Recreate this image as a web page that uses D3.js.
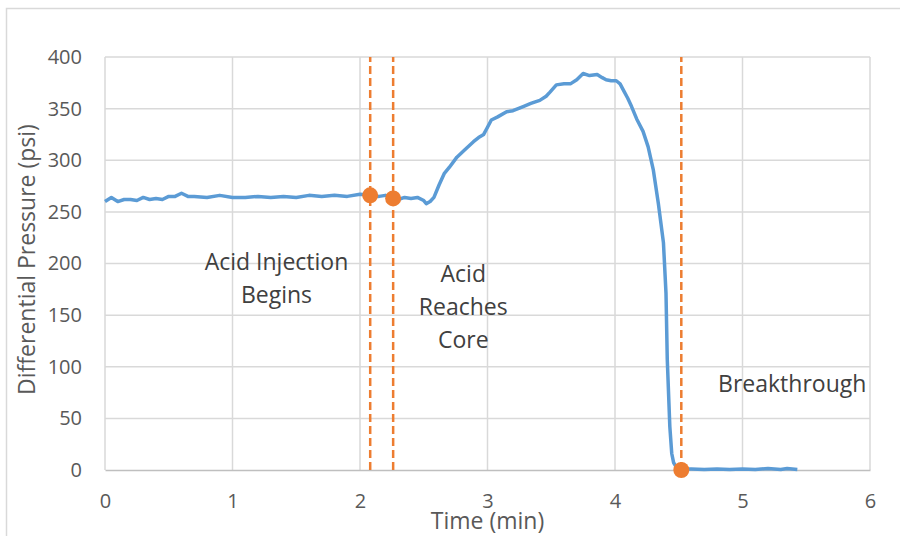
<!DOCTYPE html>
<html>
<head>
<meta charset="utf-8">
<script src="https://cdn.jsdelivr.net/npm/d3@7"></script>
<style>
  body { margin: 0; background: #fff; }
  text { font-family: "Open Sans", "Noto Sans", sans-serif; }
</style>
</head>
<body>
<div id="chart"></div>
<script>
// time (min) and differential pressure (psi)
var timeMin = [0, 0.05, 0.1, 0.15, 0.2, 0.25, 0.3, 0.35, 0.4, 0.45, 0.5, 0.55, 0.6, 0.65, 0.7,
  0.8, 0.9, 1.0, 1.1, 1.2, 1.3, 1.4, 1.5, 1.6, 1.7, 1.8, 1.9, 2.0, 2.08, 2.15, 2.2, 2.26,
  2.3, 2.35, 2.4, 2.45, 2.5, 2.52, 2.55, 2.58, 2.62, 2.66, 2.7, 2.76, 2.82, 2.89, 2.93, 2.97,
  3.0, 3.03, 3.08, 3.15, 3.2, 3.28, 3.34, 3.41, 3.46, 3.49, 3.54, 3.6, 3.65, 3.7, 3.75, 3.8,
  3.86, 3.9, 3.93, 3.97, 4.01, 4.04, 4.07, 4.1, 4.13, 4.17, 4.22, 4.26, 4.3, 4.34, 4.38,
  4.4, 4.41, 4.43, 4.445, 4.46, 4.48, 4.52, 4.6, 4.7, 4.8, 4.9, 5.0, 5.1, 5.2, 5.3, 5.35, 5.43]
var pressurePsi = [260, 264, 260, 262, 262, 261, 264, 262, 263, 262, 265, 265, 268, 265, 265,
  264, 266, 264, 264, 265, 264, 265, 264, 266, 265, 266, 265, 267, 266, 265, 266, 263,
  262, 264, 263, 264, 261, 258, 260, 264, 276, 287, 293, 303, 310, 318, 322, 325,
  332, 339, 342, 347, 348, 352, 355, 358, 362, 366, 373, 374, 374, 378, 384, 382,
  383, 380, 378, 377, 377, 374, 367, 360, 352, 340, 328, 313, 291, 258, 220,
  171, 107, 42, 16, 7, 3, 1, 1, 0.5, 1, 0.5, 1, 0.5, 1.5, 0.5, 1.5, 0.5]

var eventTimes = [2.08, 2.26, 4.52]
var eventPressures = [266, 263, 0]

var xTicks = [0, 1, 2, 3, 4, 5, 6]
var yTicks = [0, 50, 100, 150, 200, 250, 300, 350, 400]

var notes = [
  { lines: ["Acid Injection", "Begins"], t: 1.345, p: 193.7 },
  { lines: ["Acid", "Reaches", "Core"], t: 2.81, p: 182 },
  { lines: ["Breakthrough"], t: 5.39, p: 75.5 }
]

var W = 900, H = 536
var margin = { left: 105, right: 30, top: 57, bottom: 66 }

var svg = d3.select("#chart").append("svg")
    .attr("width", W)
    .attr("height", H)

// chart border
svg.append("rect")
    .attr("x", 6.5).attr("y", 8.5)
    .attr("width", W + 10).attr("height", H + 10)
    .attr("fill", "#fff")
    .attr("stroke", "#d9d9d9")
    .attr("stroke-width", 1.5)

var x = d3.scaleLinear().domain([0, 6]).range([margin.left, W - margin.right])
var y = d3.scaleLinear().domain([0, 400]).range([H - margin.bottom, margin.top])

// gridlines
svg.append("g")
    .selectAll("line")
    .data(yTicks.slice(1))
    .join("line")
    .attr("x1", x(0)).attr("x2", x(6))
    .attr("y1", d => y(d)).attr("y2", d => y(d))
    .attr("stroke", "#d9d9d9").attr("stroke-width", 1.5)

svg.append("g")
    .selectAll("line")
    .data(xTicks)
    .join("line")
    .attr("x1", d => x(d)).attr("x2", d => x(d))
    .attr("y1", y(0)).attr("y2", y(400))
    .attr("stroke", "#d9d9d9").attr("stroke-width", 1.5)

// x axis
var xAxis = svg.append("g")
    .attr("transform", `translate(0, ${y(0)})`)
    .call(d3.axisBottom(x).tickValues(xTicks).tickSize(0).tickPadding(24).tickFormat(d3.format("d")))
xAxis.select(".domain").attr("stroke", "#bfbfbf").attr("stroke-width", 1.5)
xAxis.selectAll("text").attr("font-size", 20).attr("fill", "#595959")
    .style("font-family", "'Open Sans', sans-serif")

// y axis
var yAxis = svg.append("g")
    .attr("transform", `translate(${x(0)}, 0)`)
    .call(d3.axisLeft(y).tickValues(yTicks).tickSize(0).tickPadding(23))
yAxis.select(".domain").remove()
yAxis.selectAll("text").attr("font-size", 20).attr("fill", "#595959")
    .style("font-family", "'Open Sans', sans-serif")

// axis titles
svg.append("text")
    .attr("x", (x(0) + x(6)) / 2)
    .attr("y", 529)
    .attr("text-anchor", "middle")
    .attr("font-size", 23)
    .attr("fill", "#595959")
    .text("Time (min)")

svg.append("text")
    .attr("transform", `translate(35, ${(y(0) + y(400)) / 2 - 4}) rotate(-90)`)
    .attr("text-anchor", "middle")
    .attr("font-size", 23)
    .attr("fill", "#595959")
    .text("Differential Pressure (psi)")

// pressure line
var series = timeMin.map((t, i) => ({ t: t, p: pressurePsi[i] }))
svg.append("path")
    .datum(series)
    .attr("fill", "none")
    .attr("stroke", "#5b9bd5")
    .attr("stroke-width", 3.5)
    .attr("stroke-linejoin", "round")
    .attr("d", d3.line().x(d => x(d.t)).y(d => y(d.p)))

// event markers
svg.append("g")
    .selectAll("line")
    .data(eventTimes)
    .join("line")
    .attr("x1", d => x(d)).attr("x2", d => x(d))
    .attr("y1", y(0)).attr("y2", y(400))
    .attr("stroke", "#ed7d31")
    .attr("stroke-width", 2.5)
    .attr("stroke-dasharray", "8,4")

svg.append("g")
    .selectAll("circle")
    .data(eventTimes)
    .join("circle")
    .attr("cx", d => x(d))
    .attr("cy", (d, i) => y(eventPressures[i]))
    .attr("r", 8)
    .attr("fill", "#ed7d31")

// annotations
notes.forEach(n => {
    var txt = svg.append("text")
        .attr("text-anchor", "middle")
        .attr("font-size", 23)
        .attr("fill", "#404040")
    n.lines.forEach((l, i) => {
        txt.append("tspan")
            .attr("x", x(n.t))
            .attr("y", y(n.p) + i * 33)
            .text(l)
    })
})
</script>
</body>
</html>
